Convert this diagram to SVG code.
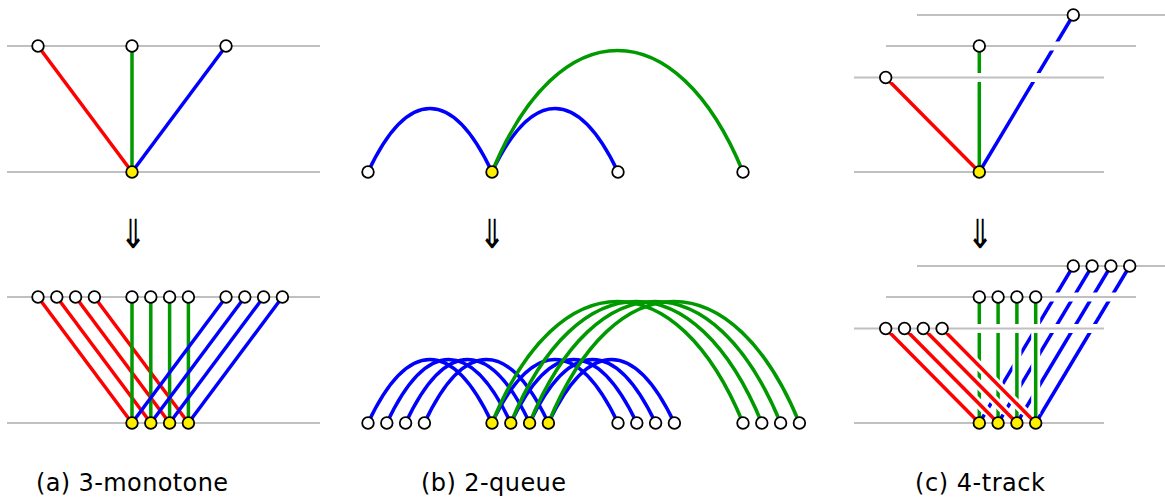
<svg xmlns="http://www.w3.org/2000/svg" xmlns:xlink="http://www.w3.org/1999/xlink" width="1165" height="502" viewBox="0 0 1165 502">
<style>
.trk{stroke:#c0c0c0;stroke-width:2;fill:none}
.trkc{stroke:#ffffff;stroke-width:9;fill:none}
.r{stroke:#ff0000;stroke-width:3.5;fill:none}
.g{stroke:#009900;stroke-width:3.5;fill:none}
.b{stroke:#0000ff;stroke-width:3.5;fill:none}
.cas{stroke:#ffffff;stroke-width:9;fill:none}
.n{fill:#ffffff;stroke:#000000;stroke-width:1.8}
.y{fill:#fff000;stroke:#000000;stroke-width:1.8}
circle{r:5.8px}
.cap{font-family:"DejaVu Sans",sans-serif;font-size:24px;fill:#000}
.arr{font-family:"DejaVu Sans",sans-serif;font-size:40px;fill:#000;text-anchor:middle}
</style>
<defs>
<mask id="nm" maskUnits="userSpaceOnUse" x="0" y="0" width="1165" height="502">
<rect x="0" y="0" width="1165" height="502" fill="#fff"/>
<circle cx="979.3" cy="423" r="10" style="r:10px" fill="#000"/>
<circle cx="998.1" cy="423" r="10" style="r:10px" fill="#000"/>
<circle cx="1016.9" cy="423" r="10" style="r:10px" fill="#000"/>
<circle cx="1035.7" cy="423" r="10" style="r:10px" fill="#000"/>
</mask>
</defs>

<g id="tracks">
<line class="trk" x1="7" y1="46" x2="320" y2="46"/>
<line class="trk" x1="7" y1="172" x2="320" y2="172"/>
<line class="trk" x1="7" y1="297" x2="320" y2="297"/>
<line class="trk" x1="7" y1="423" x2="320" y2="423"/>
</g>

<g id="connectors">
<!-- (a) top -->
<line class="r" x1="38" y1="46" x2="132" y2="172"/>
<line class="g" x1="132" y1="46" x2="132" y2="172"/>
<line class="b" x1="226" y1="46" x2="132" y2="172"/>
<!-- (a) bottom -->
<line class="r" x1="38" y1="297" x2="132" y2="423"/>
<line class="r" x1="56.8" y1="297" x2="150.8" y2="423"/>
<line class="r" x1="75.6" y1="297" x2="169.6" y2="423"/>
<line class="r" x1="94.4" y1="297" x2="188.4" y2="423"/>
<line class="g" x1="132" y1="297" x2="132" y2="423"/>
<line class="g" x1="150.8" y1="297" x2="150.8" y2="423"/>
<line class="g" x1="169.6" y1="297" x2="169.6" y2="423"/>
<line class="g" x1="188.4" y1="297" x2="188.4" y2="423"/>
<line class="b" x1="226" y1="297" x2="132" y2="423"/>
<line class="b" x1="244.8" y1="297" x2="150.8" y2="423"/>
<line class="b" x1="263.6" y1="297" x2="169.6" y2="423"/>
<line class="b" x1="282.4" y1="297" x2="188.4" y2="423"/>

<!-- (b) top -->
<path class="b" d="M368,172 C407.7,87.3 452.3,87.3 492,172"/>
<path class="b" d="M492,172 C532.3,87.3 577.7,87.3 618,172"/>
<path class="g" d="M492,172 C558.5,10 676.5,10 743,172"/>
<!-- (b) bottom -->
<g id="b-left">
<path class="b" d="M368,423 C407.7,338.3 452.3,338.3 492,423"/>
<path class="b" transform="translate(18.8,0)" d="M368,423 C407.7,338.3 452.3,338.3 492,423"/>
<path class="b" transform="translate(37.6,0)" d="M368,423 C407.7,338.3 452.3,338.3 492,423"/>
<path class="b" transform="translate(56.4,0)" d="M368,423 C407.7,338.3 452.3,338.3 492,423"/>
</g>
<g id="b-right">
<path class="b" d="M492,423 C532.3,338.3 577.7,338.3 618,423"/>
<path class="b" transform="translate(18.8,0)" d="M492,423 C532.3,338.3 577.7,338.3 618,423"/>
<path class="b" transform="translate(37.6,0)" d="M492,423 C532.3,338.3 577.7,338.3 618,423"/>
<path class="b" transform="translate(56.4,0)" d="M492,423 C532.3,338.3 577.7,338.3 618,423"/>
</g>
<g id="g-arcs">
<path class="g" d="M492,423 C558.5,261 676.5,261 743,423"/>
<path class="g" transform="translate(18.8,0)" d="M492,423 C558.5,261 676.5,261 743,423"/>
<path class="g" transform="translate(37.6,0)" d="M492,423 C558.5,261 676.5,261 743,423"/>
<path class="g" transform="translate(56.4,0)" d="M492,423 C558.5,261 676.5,261 743,423"/>
</g>

<!-- (c) top -->
<line class="r" x1="885.7" y1="77.5" x2="979.3" y2="172"/>
<line class="g" x1="979.3" y1="46" x2="979.3" y2="172"/>
<line class="b" x1="1073.3" y1="15" x2="979.3" y2="172"/>
<!-- (c) bottom: blue layer -->
<line class="b" x1="1073.3" y1="266" x2="979.3" y2="423"/>
<line class="b" x1="1092.1" y1="266" x2="998.1" y2="423"/>
<line class="b" x1="1110.9" y1="266" x2="1016.9" y2="423"/>
<line class="b" x1="1129.7" y1="266" x2="1035.7" y2="423"/>
<!-- green layer -->
<g mask="url(#nm)">
<line class="cas" x1="979.3" y1="297" x2="979.3" y2="423"/>
<line class="cas" x1="998.1" y1="297" x2="998.1" y2="423"/>
<line class="cas" x1="1016.9" y1="297" x2="1016.9" y2="423"/>
<line class="cas" x1="1035.7" y1="297" x2="1035.7" y2="423"/>
</g>
<line class="g" x1="979.3" y1="297" x2="979.3" y2="423"/>
<line class="g" x1="998.1" y1="297" x2="998.1" y2="423"/>
<line class="g" x1="1016.9" y1="297" x2="1016.9" y2="423"/>
<line class="g" x1="1035.7" y1="297" x2="1035.7" y2="423"/>
<!-- red layer -->
<g mask="url(#nm)">
<line class="cas" x1="885.7" y1="328.5" x2="979.3" y2="423"/>
<line class="cas" x1="904.5" y1="328.5" x2="998.1" y2="423"/>
<line class="cas" x1="923.3" y1="328.5" x2="1016.9" y2="423"/>
<line class="cas" x1="942.1" y1="328.5" x2="1035.7" y2="423"/>
</g>
<line class="r" x1="885.7" y1="328.5" x2="979.3" y2="423"/>
<line class="r" x1="904.5" y1="328.5" x2="998.1" y2="423"/>
<line class="r" x1="923.3" y1="328.5" x2="1016.9" y2="423"/>
<line class="r" x1="942.1" y1="328.5" x2="1035.7" y2="423"/>
</g>

<g id="tracks-c">
<line class="trkc" x1="917" y1="15" x2="1165" y2="15"/>
<line class="trkc" x1="886" y1="46" x2="1136" y2="46"/>
<line class="trkc" x1="854" y1="77.5" x2="1104" y2="77.5"/>
<line class="trk" x1="917" y1="15" x2="1165" y2="15"/>
<line class="trk" x1="886" y1="46" x2="1136" y2="46"/>
<line class="trk" x1="854" y1="77.5" x2="1104" y2="77.5"/>
<line class="trk" x1="854" y1="172" x2="1104" y2="172"/>
<line class="trkc" x1="917" y1="266" x2="1165" y2="266"/>
<line class="trkc" x1="886" y1="297" x2="1136" y2="297"/>
<line class="trkc" x1="854" y1="328.5" x2="1104" y2="328.5"/>
<line class="trk" x1="917" y1="266" x2="1165" y2="266"/>
<line class="trk" x1="886" y1="297" x2="1136" y2="297"/>
<line class="trk" x1="854" y1="328.5" x2="1104" y2="328.5"/>
<line class="trk" x1="854" y1="423" x2="1104" y2="423"/>
</g>

<g id="nodes-a-top">
<circle class="n" cx="38" cy="46" r="5.8"/>
<circle class="n" cx="132" cy="46" r="5.8"/>
<circle class="n" cx="226" cy="46" r="5.8"/>
<circle class="y" cx="132" cy="172" r="5.8"/>
</g>
<g id="nodes-a-bottom">
<circle class="n" cx="38" cy="297" r="5.8"/>
<circle class="n" cx="56.8" cy="297" r="5.8"/>
<circle class="n" cx="75.6" cy="297" r="5.8"/>
<circle class="n" cx="94.4" cy="297" r="5.8"/>
<circle class="n" cx="132" cy="297" r="5.8"/>
<circle class="n" cx="150.8" cy="297" r="5.8"/>
<circle class="n" cx="169.6" cy="297" r="5.8"/>
<circle class="n" cx="188.4" cy="297" r="5.8"/>
<circle class="n" cx="226" cy="297" r="5.8"/>
<circle class="n" cx="244.8" cy="297" r="5.8"/>
<circle class="n" cx="263.6" cy="297" r="5.8"/>
<circle class="n" cx="282.4" cy="297" r="5.8"/>
<circle class="y" cx="132" cy="423" r="5.8"/>
<circle class="y" cx="150.8" cy="423" r="5.8"/>
<circle class="y" cx="169.6" cy="423" r="5.8"/>
<circle class="y" cx="188.4" cy="423" r="5.8"/>
</g>
<g id="nodes-b-top">
<circle class="n" cx="368" cy="172" r="5.8"/>
<circle class="y" cx="492" cy="172" r="5.8"/>
<circle class="n" cx="618" cy="172" r="5.8"/>
<circle class="n" cx="743" cy="172" r="5.8"/>
</g>
<g id="nodes-b-bottom">
<circle class="n" cx="368" cy="423" r="5.8"/>
<circle class="n" cx="386.8" cy="423" r="5.8"/>
<circle class="n" cx="405.6" cy="423" r="5.8"/>
<circle class="n" cx="424.4" cy="423" r="5.8"/>
<circle class="y" cx="492" cy="423" r="5.8"/>
<circle class="y" cx="510.8" cy="423" r="5.8"/>
<circle class="y" cx="529.6" cy="423" r="5.8"/>
<circle class="y" cx="548.4" cy="423" r="5.8"/>
<circle class="n" cx="618" cy="423" r="5.8"/>
<circle class="n" cx="636.8" cy="423" r="5.8"/>
<circle class="n" cx="655.6" cy="423" r="5.8"/>
<circle class="n" cx="674.4" cy="423" r="5.8"/>
<circle class="n" cx="743" cy="423" r="5.8"/>
<circle class="n" cx="761.8" cy="423" r="5.8"/>
<circle class="n" cx="780.6" cy="423" r="5.8"/>
<circle class="n" cx="799.4" cy="423" r="5.8"/>
</g>
<g id="nodes-c-top">
<circle class="n" cx="885.7" cy="77.5" r="5.8"/>
<circle class="n" cx="979.3" cy="46" r="5.8"/>
<circle class="n" cx="1073.3" cy="15" r="5.8"/>
<circle class="y" cx="979.3" cy="172" r="5.8"/>
</g>
<g id="nodes-c-bottom">
<circle class="n" cx="885.7" cy="328.5" r="5.8"/>
<circle class="n" cx="904.5" cy="328.5" r="5.8"/>
<circle class="n" cx="923.3" cy="328.5" r="5.8"/>
<circle class="n" cx="942.1" cy="328.5" r="5.8"/>
<circle class="n" cx="979.3" cy="297" r="5.8"/>
<circle class="n" cx="998.1" cy="297" r="5.8"/>
<circle class="n" cx="1016.9" cy="297" r="5.8"/>
<circle class="n" cx="1035.7" cy="297" r="5.8"/>
<circle class="n" cx="1073.3" cy="266" r="5.8"/>
<circle class="n" cx="1092.1" cy="266" r="5.8"/>
<circle class="n" cx="1110.9" cy="266" r="5.8"/>
<circle class="n" cx="1129.7" cy="266" r="5.8"/>
<circle class="y" cx="979.3" cy="423" r="5.8"/>
<circle class="y" cx="998.1" cy="423" r="5.8"/>
<circle class="y" cx="1016.9" cy="423" r="5.8"/>
<circle class="y" cx="1035.7" cy="423" r="5.8"/>
</g>

<g id="arrows">
<text class="arr" transform="translate(133,248) scale(0.8,1)" x="0" y="0">⇓</text>
<text class="arr" transform="translate(492,248) scale(0.8,1)" x="0" y="0">⇓</text>
<text class="arr" transform="translate(980,248) scale(0.8,1)" x="0" y="0">⇓</text>
</g>

<g id="captions">
<text class="cap" x="36" y="491" textLength="192" lengthAdjust="spacing">(a) 3-monotone</text>
<text class="cap" x="421" y="491" textLength="145" lengthAdjust="spacing">(b) 2-queue</text>
<text class="cap" x="915" y="491" textLength="130" lengthAdjust="spacing">(c) 4-track</text>
</g>
</svg>
